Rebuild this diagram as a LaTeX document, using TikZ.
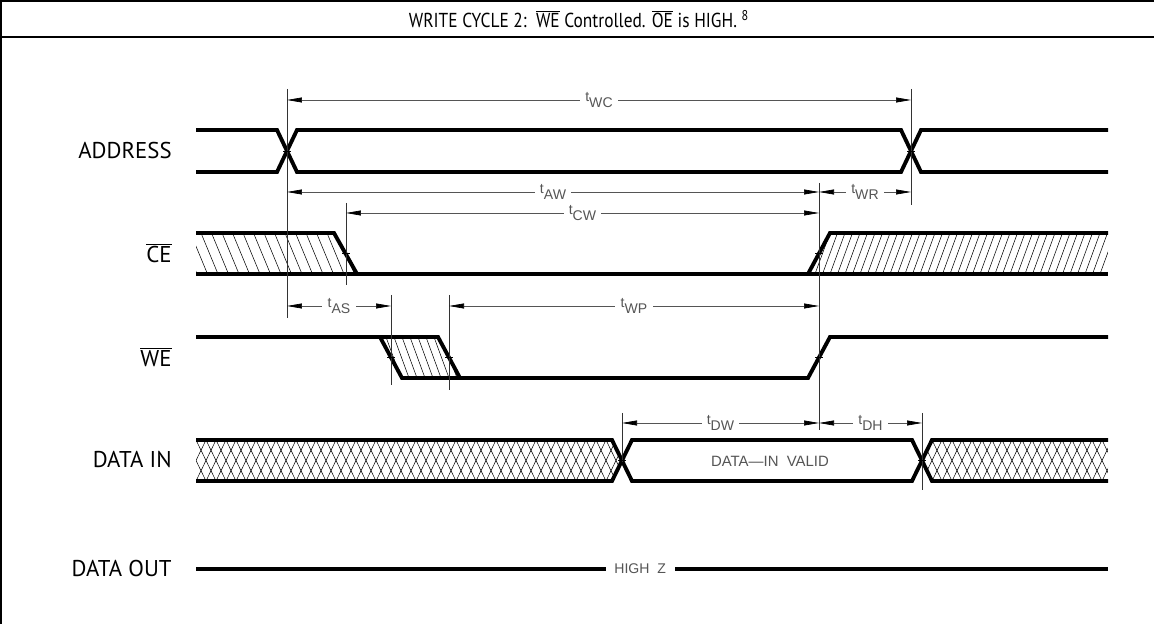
\documentclass[tikz,border=0pt]{standalone}
\usepackage{fontspec}
\setmainfont{PT Sans}
\newfontfamily\cadfont[Ligatures=TeX]{Liberation Sans}
\usetikzlibrary{arrows.meta}
\definecolor{dimgr}{HTML}{555555}
\tikzset{
  sig/.style={black,line width=2.2pt,line join=miter},
  hatch/.style={black,line width=0.3pt},
  dim/.style={{Triangle[length=3mm,width=1mm,color=black]}-{Triangle[length=3mm,width=1mm,color=black]},dimgr,line width=0.4pt},
  ref/.style={black!80,line width=0.4pt},
  lab/.style={fill=white,inner sep=3pt,text=dimgr,font=\cadfont\fontsize{8}{9}\selectfont},
  signame/.style={anchor=east,inner sep=0pt,font=\fontsize{13}{15}\selectfont},
  frame/.style={black,line width=1.2pt},
}
\newcommand{\ovl}[1]{$\overline{\mbox{#1}}$}
\newcommand{\tm}[1]{t\raisebox{-0.7ex}{#1}}

\begin{document}
\begin{tikzpicture}[x=0.02cm,y=-0.02cm]
  \useasboundingbox (0,0) rectangle (1154,624);
  \draw[frame] (0,1) -- (1154,1);
  \draw[frame] (0,37) -- (1154,37);
  \draw[frame] (1,0) -- (1,624);
  \node[font=\fontsize{11.5}{13}\selectfont] (title) at (579,19)
    {\scalebox{0.86}[1]{WRITE CYCLE 2:\ \ \ovl{WE} Controlled. \ovl{OE} is HIGH. \textsuperscript{8}}};

  \node[signame] (addr) at (172,151) {ADDRESS};
  \node[signame] (ce) at (172,253) {\ovl{CE}};
  \node[signame] (we) at (172,357) {\ovl{WE}};
  \node[signame] (din) at (172,460) {DATA IN};
  \node[signame] (dout) at (172,569) {DATA OUT};

  % hatching
  \begin{scope}
    \clip (196,233) -- (334,233) -- (357,274) -- (196,274) -- cycle;
    \foreach \x in {180,190.5,...,360} \draw[hatch] (\x,233) -- (\x+17,274);
  \end{scope}
  \begin{scope}
    \clip (830,233) -- (1108,233) -- (1108,274) -- (808,274) -- cycle;
    \foreach \x in {800,807.5,...,1120} \draw[hatch] (\x,274) -- (\x+15,233);
  \end{scope}
  \begin{scope}
    \clip (380,337) -- (438,337) -- (460,378) -- (402,378) -- cycle;
    \foreach \x in {370,378,...,470} \draw[hatch] (\x,337) -- (\x+15,378);
  \end{scope}
  \begin{scope}
    \clip (196,440) -- (612,440) -- (622,460) -- (612,481) -- (196,481) -- cycle;
    \foreach \x in {176,186,...,632} {
      \draw[hatch] (\x,440) -- (\x+20,481);
      \draw[hatch] (\x+20,440) -- (\x,481);}
  \end{scope}
  \begin{scope}
    \clip (922,460) -- (932,440) -- (1108,440) -- (1108,481) -- (932,481) -- cycle;
    \foreach \x in {902,912,...,1118} {
      \draw[hatch] (\x,440) -- (\x+20,481);
      \draw[hatch] (\x+20,440) -- (\x,481);}
  \end{scope}

  % signals
  \draw[sig] (196,130) -- (277,130) -- (297,172) -- (901,172) -- (921,130) -- (1108,130);
  \draw[sig] (196,172) -- (277,172) -- (297,130) -- (901,130) -- (921,172) -- (1108,172);
  \draw[sig] (196,274) -- (1108,274);
  \draw[sig] (196,233) -- (334,233) -- (357,274);
  \draw[sig] (808,274) -- (830,233) -- (1108,233);
  \draw[sig] (196,337) -- (438,337) -- (460,378);
  \draw[sig] (380,337) -- (402,378) -- (808,378) -- (830,337) -- (1108,337);
  \draw[sig] (196,440) -- (612,440) -- (632,481) -- (912,481) -- (932,440) -- (1108,440);
  \draw[sig] (196,481) -- (612,481) -- (632,440) -- (912,440) -- (932,481) -- (1108,481);
  \node[lab,font=\cadfont\fontsize{8.5}{9}\selectfont] (valid) at (770,461) {DATA---IN\ \ VALID};
  \draw[sig] (196,569) -- node[lab,pos=0.487,inner sep=5pt] (hiz) {HIGH\ \ Z} (1108,569);

  % timing
  \foreach \x/\a/\b in {287/89/318, 911/89/205, 819/183/430, 346/203/285,
                        391/295/385, 449/295/390, 622/413/462, 922/413/490}
    \draw[ref] (\x,\a) -- (\x,\b);
  \foreach \x/\y in {287/151, 911/151, 346/253, 819/253, 391/357,
                     449/357, 819/357, 622/460, 922/460}
    \draw[hatch] (\x-4,\y) -- (\x+4,\y);
  \foreach \a/\b/\y/\s in {287/911/100/WC, 287/819/192/AW, 819/911/192/WR,
                           346/819/213/CW, 287/391/306/AS, 449/819/306/WP,
                           622/819/423/DW, 819/922/423/DH}
    \draw[dim] (\a,\y) -- node[lab] (t\s) {\tm{\s}} (\b,\y);
\end{tikzpicture}
\end{document}
